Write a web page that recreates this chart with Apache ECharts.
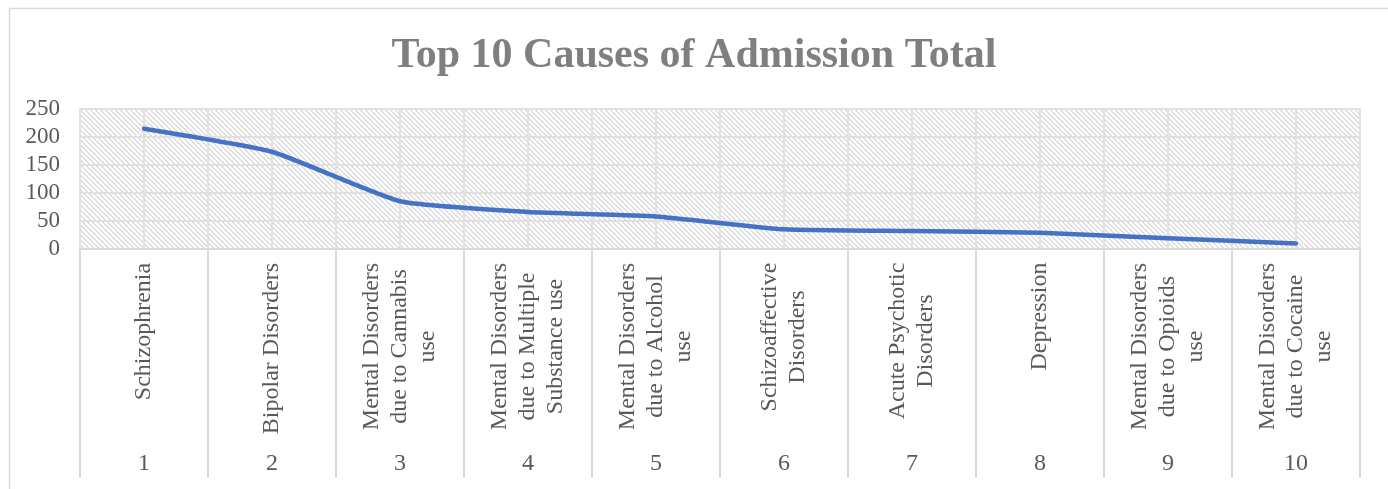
<!DOCTYPE html>
<html>
<head>
<meta charset="utf-8">
<script src="https://cdn.jsdelivr.net/npm/echarts@6/dist/echarts.min.js"></script>
<style>
html,body{margin:0;padding:0;background:#fff;}
#main{width:1388px;height:489px;}
</style>
</head>
<body>
<div id="main"></div>
<script>
const categories = [
  'Schizophrenia',
  'Bipolar Disorders',
  'Mental Disorders\ndue to Cannabis\nuse',
  'Mental Disorders\ndue to Multiple\nSubstance use',
  'Mental Disorders\ndue to Alcohol\nuse',
  'Schizoaffective\nDisorders',
  'Acute Psychotic\nDisorders',
  'Depression',
  'Mental Disorders\ndue to Opioids\nuse',
  'Mental Disorders\ndue to Cocaine\nuse'
];
const rankLabels = ['1','2','3','4','5','6','7','8','9','10'];
const totals = [214, 173, 85, 66, 58, 35, 32, 29, 19, 10];
const titleText = 'Top 10 Causes of Admission Total';

const FONT = '"Liberation Serif", "Times New Roman", serif';
const LABEL_SIZE = 24;

// hatch pattern for plot background
const pc = document.createElement('canvas');
pc.width = 5; pc.height = 5;
const pg = pc.getContext('2d');
pg.fillStyle = '#ffffff'; pg.fillRect(0,0,5,5);
pg.fillStyle = '#dddddd';
for (let i = 0; i < 5; i++) { pg.fillRect(i, i, 1, 1); pg.fillRect((i+1)%5, i, 1, 1); }

// measure label lines to center lines within each rotated block
const mc = document.createElement('canvas').getContext('2d');
mc.font = LABEL_SIZE + 'px "Liberation Serif"';
const rich = {};
categories.forEach((c, i) => {
  const w = Math.max(...c.split('\n').map(l => mc.measureText(l).width));
  rich['r' + i] = {width: Math.ceil(w) + 1, align: 'center', fontSize: LABEL_SIZE,
    fontFamily: FONT, color: '#595959', lineHeight: 28};
});

const chart = echarts.init(document.getElementById('main'));
chart.setOption({
  animation: false,
  backgroundColor: '#ffffff',
  title: {
    text: titleText, left: 'center', top: 30,
    textStyle: {fontFamily: FONT, fontWeight: 'bold', fontSize: 42, color: '#7f7f7f'}
  },
  graphic: [{
    type: 'rect', left: 7, top: 6, silent: true,
    shape: {width: 1420, height: 520},
    style: {fill: null, stroke: '#d9d9d9', lineWidth: 1.5}
  }],
  grid: {
    left: 80, right: 28, top: 108.5, bottom: 240,
    show: true, borderWidth: 0,
    backgroundColor: {image: pc, repeat: 'repeat'}
  },
  xAxis: [{
    type: 'category', data: categories, position: 'bottom', boundaryGap: true,
    axisLine: {show: true, lineStyle: {color: '#d9d9d9', width: 2}},
    axisTick: {show: true, interval: 0, length: 229, lineStyle: {color: '#d9d9d9', width: 2}},
    splitLine: {show: false},
    axisLabel: {
      interval: 0, rotate: 90, margin: 13,
      formatter: (v, i) => v.split('\n').map(l => '{r' + i + '|' + l + '}').join('\n'),
      rich: rich
    }
  }, {
    type: 'category', data: rankLabels, position: 'bottom', boundaryGap: true,
    axisLine: {show: false}, axisTick: {show: false}, splitLine: {show: false},
    axisLabel: {interval: 0, margin: 203, fontFamily: FONT, fontSize: 24, color: '#595959'}
  }, {
    type: 'value', position: 'top', min: 0.5, max: 10.5, interval: 0.5,
    axisLine: {show: false}, axisTick: {show: false}, axisLabel: {show: false},
    splitLine: {show: true, lineStyle: {color: '#e0e0e0', width: 2}}
  }],
  yAxis: {
    type: 'value', min: 0, max: 250, interval: 50,
    axisLine: {show: false}, axisTick: {show: false},
    axisLabel: {margin: 20, fontFamily: FONT, fontSize: 23, color: '#595959'},
    splitLine: {show: true, lineStyle: {color: '#e0e0e0', width: 2}}
  },
  series: [{
    type: 'line', xAxisIndex: 0, data: totals, smooth: 0.15,
    showSymbol: false, symbol: 'none',
    lineStyle: {color: '#4472c4', width: 4.5, cap: 'round', join: 'round'}
  }]
});
</script>
</body>
</html>
